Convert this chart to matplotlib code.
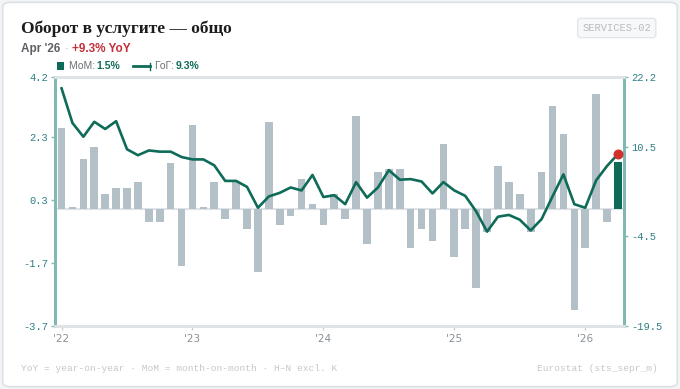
import matplotlib.pyplot as plt
from matplotlib.patches import FancyBboxPatch, Rectangle
from matplotlib.lines import Line2D
import numpy as np

# monthly data, Jan 2022 .. Apr 2026
mom = [2.57, 0.08, 1.59, 1.98, 0.49, 0.68, 0.68, 0.88, -0.41, -0.41, 1.48, -1.80,
       2.68, 0.08, 0.88, -0.31, 0.88, -0.61, -2.00, 2.77, -0.51, -0.21, 0.97, 0.18,
       -0.51, 0.48, -0.31, 2.97, -1.10, 1.18, 1.27, 1.27, -1.21, -0.61, -1.00, 2.07,
       -1.50, -0.61, -2.50, -0.71, 1.38, 0.88, 0.49, -0.71, 1.18, 3.28, 2.38, -3.20,
       -1.21, 3.67, -0.41, 1.5]
yoy = [20.3, 14.5, 12.2, 14.7, 13.5, 14.8, 10.1, 9.1, 9.9, 9.7, 9.7, 8.8,
       8.4, 8.4, 7.4, 4.8, 4.8, 3.8, 0.3, 2.2, 2.8, 3.7, 3.2, 5.8,
       2.1, 2.4, 0.9, 4.6, 2.0, 3.7, 6.6, 5.0, 5.1, 4.7, 2.7, 4.6,
       3.2, 2.3, -0.3, -3.7, -1.2, -0.9, -1.7, -3.5, -1.6, 2.2, 5.9, 0.9,
       0.3, 4.9, 7.3, 9.3]
year_ticks = [0, 12, 24, 36, 48]
year_labels = ["'22", "'23", "'24", "'25", "'26"]
left_ticks = [-3.7, -1.7, 0.3, 2.3, 4.2]
right_ticks = [-19.5, -4.5, 10.5, 22.2]

GREEN = '#0e6b58'
BAR = '#b3c0c7'
TEAL_AX = '#7fb9b1'
TICK_TXT = '#2f7f86'
MONO = 'Liberation Mono'

fig = plt.figure(figsize=(6.8, 3.89), dpi=100)
fig.patch.set_facecolor('#f3f4f6')

# card behind everything
card = FancyBboxPatch((0.004, 0.006), 0.992, 0.988, boxstyle='round,pad=0,rounding_size=0.012',
                      transform=fig.transFigure, facecolor='white', edgecolor='#dde1e6',
                      linewidth=1.2, zorder=-10)
fig.patches.append(card)

ax = fig.add_axes([0.0809, 0.162, 0.8367, 0.640])
ax2 = ax.twinx()
ax.patch.set_alpha(0)
ax2.patch.set_alpha(0)

x = np.arange(len(mom))
colors = [BAR] * (len(mom) - 1) + [GREEN]
ax.bar(x, mom, width=0.7, color=colors, zorder=2)
ax.axhline(0, color='#dfe2e6', linewidth=1.5, zorder=1)

ax2.plot(x, yoy, color=GREEN, linewidth=1.9, zorder=3)
ax2.scatter([x[-1]], [yoy[-1]], s=38, color='#d0312d', zorder=4)

ax.set_xlim(-0.6, len(mom) - 0.45)
ax.set_ylim(-3.7, 4.2)
ax2.set_ylim(-19.5, 22.2)

ax.set_yticks(left_ticks)
ax.set_yticklabels([f'{v:.1f}' for v in left_ticks])
ax2.set_yticks(right_ticks)
ax2.set_yticklabels([f'{v:.1f}' for v in right_ticks])
ax.set_xticks(year_ticks)
ax.set_xticklabels(year_labels)

for a in (ax, ax2):
    for s in ('top', 'bottom'):
        a.spines[s].set_color('#dfe2e6')
        a.spines[s].set_linewidth(2)
    a.spines['left'].set_color(TEAL_AX)
    a.spines['right'].set_color(TEAL_AX)
    a.spines['left'].set_linewidth(2)
    a.spines['right'].set_linewidth(2)
ax.tick_params(axis='y', colors=TEAL_AX, labelcolor=TICK_TXT, length=3, width=1, pad=2)
ax2.tick_params(axis='y', colors=TEAL_AX, labelcolor=TICK_TXT, length=3, width=1, pad=2)
ax.tick_params(axis='x', colors='#c9cdd2', labelcolor='#8a9096', length=3, width=1, pad=3)
for lab in ax.get_yticklabels() + ax2.get_yticklabels():
    lab.set_fontfamily(MONO)
    lab.set_fontsize(7.5)
for lab in ax.get_xticklabels():
    lab.set_fontsize(7.5)

# title / subtitle
fig.text(0.031, 0.915, 'Оборот в услугите — общо', fontsize=12.5, fontweight='bold',
         family='Liberation Serif', color='#1c1c1c', va='baseline')
t1 = fig.text(0.031, 0.866, "Apr '26", fontsize=8.5, fontweight='bold', color='#5d6166',
              family='Liberation Sans', va='baseline')
fig.canvas.draw()
r = fig.canvas.get_renderer()
bb = t1.get_window_extent(r)
t2 = fig.text(bb.x1 / fig.bbox.width + 0.006, 0.866, '·', fontsize=8.5, color='#a0a4a8',
              family='Liberation Sans', va='baseline')
bb2 = t2.get_window_extent(r)
fig.text(bb2.x1 / fig.bbox.width + 0.006, 0.866, '+9.3% YoY', fontsize=8.5, fontweight='bold',
         color='#c62f3a', family='Liberation Sans', va='baseline')

# legend
fig.patches.append(Rectangle((0.0838, 0.819), 0.0105, 0.022, transform=fig.transFigure,
                             facecolor=GREEN, edgecolor='none'))
fig.text(0.101, 0.822, 'МоМ: ', fontsize=7.5, color='#6b7177', family='Liberation Sans')
fig.text(0.141, 0.822, '1.5%', fontsize=7.5, color=GREEN, fontweight='bold', family='Liberation Sans')
fig.lines.append(Line2D([0.196, 0.221], [0.830, 0.830], transform=fig.transFigure,
                        color=GREEN, linewidth=2))
fig.lines.append(Line2D([0.221, 0.221], [0.821, 0.839], transform=fig.transFigure,
                        color=GREEN, linewidth=1))
fig.text(0.228, 0.822, 'ГоГ: ', fontsize=7.5, color='#6b7177', family='Liberation Sans')
fig.text(0.259, 0.822, '9.3%', fontsize=7.5, color=GREEN, fontweight='bold', family='Liberation Sans')

# badge
fig.text(0.907, 0.928, 'SERVICES-02', fontsize=7.5, family=MONO, color='#b8bcc0', ha='center',
         va='center', bbox=dict(boxstyle='round,pad=0.45,rounding_size=0.3', facecolor='#f7f8f9',
                                edgecolor='#e3e6e9', linewidth=1))

# footer
fig.text(0.031, 0.047, 'YoY = year-on-year · MoM = month-on-month · H–N excl. K', fontsize=6.8,
         family=MONO, color='#c4c7ca')
fig.text(0.968, 0.047, 'Eurostat (sts_sepr_m)', fontsize=6.8, family=MONO, color='#c4c7ca', ha='right')

fig.savefig('out.png', dpi=100, facecolor=fig.get_facecolor())
